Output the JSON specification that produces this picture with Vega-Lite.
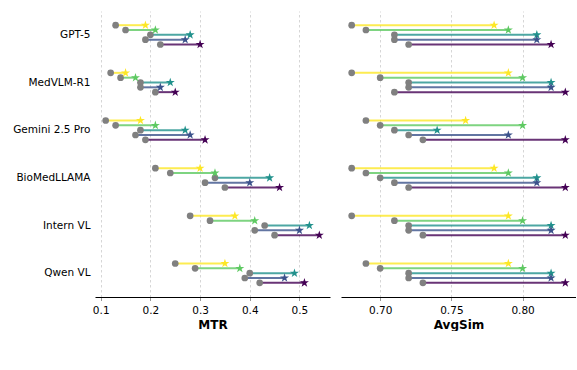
{
  "$schema": "https://vega.github.io/schema/vega-lite/v6.json",
  "padding": {"left": 12, "top": 11, "right": 0, "bottom": 0},
  "config": {
    "font": "DejaVu Sans",
    "view": {"stroke": null},
    "concat": {"spacing": 11},
    "axis": {
      "labelFont": "DejaVu Sans",
      "labelFontSize": 10.5,
      "labelColor": "#000000",
      "titleFont": "DejaVu Sans",
      "titleFontSize": 12,
      "titleFontWeight": "bold",
      "titleColor": "#000000"
    },
    "axisX": {
      "grid": true,
      "gridDash": [2.5, 2.5],
      "gridColor": "#cccccc",
      "gridWidth": 0.8,
      "domainColor": "#000000",
      "domainWidth": 1,
      "tickColor": "#999999",
      "tickSize": 3.5,
      "labelPadding": 5,
      "titlePadding": 3.5
    },
    "axisY": {
      "domain": false,
      "ticks": false,
      "grid": false,
      "labelPadding": 5
    }
  },
  "data": {
    "values": [
      {"model": "GPT-5", "method": "Comdefend", "mtr_m": 0.13, "mtr_o": 0.19, "sim_m": 0.68, "sim_o": 0.78},
      {"model": "GPT-5", "method": "JPEG", "mtr_m": 0.15, "mtr_o": 0.21, "sim_m": 0.69, "sim_o": 0.79},
      {"model": "GPT-5", "method": "Average", "mtr_m": 0.20, "mtr_o": 0.28, "sim_m": 0.71, "sim_o": 0.81},
      {"model": "GPT-5", "method": "Median", "mtr_m": 0.19, "mtr_o": 0.27, "sim_m": 0.71, "sim_o": 0.81},
      {"model": "GPT-5", "method": "Gaussian", "mtr_m": 0.22, "mtr_o": 0.30, "sim_m": 0.72, "sim_o": 0.82},
      {"model": "MedVLM-R1", "method": "Comdefend", "mtr_m": 0.12, "mtr_o": 0.15, "sim_m": 0.68, "sim_o": 0.79},
      {"model": "MedVLM-R1", "method": "JPEG", "mtr_m": 0.14, "mtr_o": 0.17, "sim_m": 0.70, "sim_o": 0.80},
      {"model": "MedVLM-R1", "method": "Average", "mtr_m": 0.18, "mtr_o": 0.24, "sim_m": 0.72, "sim_o": 0.82},
      {"model": "MedVLM-R1", "method": "Median", "mtr_m": 0.18, "mtr_o": 0.22, "sim_m": 0.72, "sim_o": 0.82},
      {"model": "MedVLM-R1", "method": "Gaussian", "mtr_m": 0.21, "mtr_o": 0.25, "sim_m": 0.71, "sim_o": 0.83},
      {"model": "Gemini 2.5 Pro", "method": "Comdefend", "mtr_m": 0.11, "mtr_o": 0.18, "sim_m": 0.69, "sim_o": 0.76},
      {"model": "Gemini 2.5 Pro", "method": "JPEG", "mtr_m": 0.13, "mtr_o": 0.21, "sim_m": 0.70, "sim_o": 0.80},
      {"model": "Gemini 2.5 Pro", "method": "Average", "mtr_m": 0.18, "mtr_o": 0.27, "sim_m": 0.71, "sim_o": 0.74},
      {"model": "Gemini 2.5 Pro", "method": "Median", "mtr_m": 0.17, "mtr_o": 0.28, "sim_m": 0.72, "sim_o": 0.79},
      {"model": "Gemini 2.5 Pro", "method": "Gaussian", "mtr_m": 0.19, "mtr_o": 0.31, "sim_m": 0.73, "sim_o": 0.83},
      {"model": "BioMedLLAMA", "method": "Comdefend", "mtr_m": 0.21, "mtr_o": 0.30, "sim_m": 0.68, "sim_o": 0.78},
      {"model": "BioMedLLAMA", "method": "JPEG", "mtr_m": 0.24, "mtr_o": 0.33, "sim_m": 0.69, "sim_o": 0.79},
      {"model": "BioMedLLAMA", "method": "Average", "mtr_m": 0.33, "mtr_o": 0.44, "sim_m": 0.70, "sim_o": 0.81},
      {"model": "BioMedLLAMA", "method": "Median", "mtr_m": 0.31, "mtr_o": 0.40, "sim_m": 0.71, "sim_o": 0.81},
      {"model": "BioMedLLAMA", "method": "Gaussian", "mtr_m": 0.35, "mtr_o": 0.46, "sim_m": 0.72, "sim_o": 0.83},
      {"model": "Intern VL", "method": "Comdefend", "mtr_m": 0.28, "mtr_o": 0.37, "sim_m": 0.68, "sim_o": 0.79},
      {"model": "Intern VL", "method": "JPEG", "mtr_m": 0.32, "mtr_o": 0.41, "sim_m": 0.71, "sim_o": 0.80},
      {"model": "Intern VL", "method": "Average", "mtr_m": 0.43, "mtr_o": 0.52, "sim_m": 0.72, "sim_o": 0.82},
      {"model": "Intern VL", "method": "Median", "mtr_m": 0.41, "mtr_o": 0.50, "sim_m": 0.72, "sim_o": 0.82},
      {"model": "Intern VL", "method": "Gaussian", "mtr_m": 0.45, "mtr_o": 0.54, "sim_m": 0.73, "sim_o": 0.83},
      {"model": "Qwen VL", "method": "Comdefend", "mtr_m": 0.25, "mtr_o": 0.35, "sim_m": 0.69, "sim_o": 0.79},
      {"model": "Qwen VL", "method": "JPEG", "mtr_m": 0.29, "mtr_o": 0.38, "sim_m": 0.70, "sim_o": 0.80},
      {"model": "Qwen VL", "method": "Average", "mtr_m": 0.40, "mtr_o": 0.49, "sim_m": 0.72, "sim_o": 0.82},
      {"model": "Qwen VL", "method": "Median", "mtr_m": 0.39, "mtr_o": 0.47, "sim_m": 0.72, "sim_o": 0.82},
      {"model": "Qwen VL", "method": "Gaussian", "mtr_m": 0.42, "mtr_o": 0.51, "sim_m": 0.73, "sim_o": 0.83}
    ]
  },
  "hconcat": [
    {
      "width": 235,
      "height": 286,
      "layer": [
        {
          "mark": {"type": "rule", "strokeWidth": 2, "opacity": 0.8},
          "encoding": {
            "y": {"field": "model", "type": "nominal", "title": null, "scale": {"domain": ["GPT-5", "MedVLM-R1", "Gemini 2.5 Pro", "BioMedLLAMA", "Intern VL", "Qwen VL"], "paddingInner": 0.494, "paddingOuter": 0.247}},
            "yOffset": {"field": "method", "type": "nominal", "scale": {"domain": ["Comdefend", "JPEG", "Average", "Median", "Gaussian"], "paddingInner": 0, "paddingOuter": 0}},
            "x": {"field": "mtr_m", "type": "quantitative", "title": "MTR", "scale": {"domain": [0.0885, 0.5615], "nice": false, "zero": false}, "axis": {"values": [0.1, 0.2, 0.3, 0.4, 0.5], "format": ".1f"}},
            "x2": {"field": "mtr_o"},
            "color": {"field": "method", "type": "nominal", "legend": null,
              "scale": {"domain": ["Gaussian", "Average", "Comdefend", "Ours", "Median", "JPEG", "M-Attack"], "range": ["#440154", "#21918c", "#fde725", "#000000", "#3b528b", "#5ec962", "#808080"]}}
          }
        },
        {
          "mark": {"type": "point", "shape": "circle", "filled": true, "size": 45, "color": "#808080", "opacity": 1},
          "encoding": {
            "y": {"field": "model", "type": "nominal"},
            "yOffset": {"field": "method", "type": "nominal"},
            "x": {"field": "mtr_m", "type": "quantitative"}
          }
        },
        {
          "mark": {"type": "point", "shape": "M0,-1L0.2245,-0.309L0.951,-0.309L0.363,0.118L0.588,0.809L0,0.382L-0.588,0.809L-0.363,0.118L-0.951,-0.309L-0.2245,-0.309Z", "filled": true, "size": 90, "opacity": 1},
          "encoding": {
            "y": {"field": "model", "type": "nominal"},
            "yOffset": {"field": "method", "type": "nominal"},
            "x": {"field": "mtr_o", "type": "quantitative"},
            "color": {"field": "method", "type": "nominal", "legend": null}
          }
        },
        {
          "data": {"values": [
            {"method": "Gaussian"}, {"method": "Average"}, {"method": "Comdefend"}, {"method": "Ours"},
            {"method": "Median"}, {"method": "JPEG"}, {"method": "M-Attack"}
          ]},
          "mark": {"type": "point", "filled": true, "opacity": 0},
          "encoding": {
            "color": {"field": "method", "type": "nominal",
              "legend": {"orient": "none", "legendX": 80, "legendY": 338, "columns": 4, "title": null, "padding": 0, "symbolSize": 100, "symbolOpacity": 1, "symbolStrokeWidth": 0, "labelFontSize": 11.5, "labelFont": "DejaVu Sans", "labelColor": "#000000", "labelOffset": 25, "columnPadding": 22, "rowPadding": 6}},
            "shape": {"field": "method", "type": "nominal",
              "scale": {"domain": ["Gaussian", "Average", "Comdefend", "Ours", "Median", "JPEG", "M-Attack"],
                "range": ["M-1,-0.35H4.6V0.35H-1Z", "M-1,-0.35H4.6V0.35H-1Z", "M-1,-0.35H4.6V0.35H-1Z",
                  "M1.8,-1.1L2.047,-0.34L2.846,-0.34L2.199,0.13L2.447,0.89L1.8,0.42L1.153,0.89L1.401,0.13L0.754,-0.34L1.553,-0.34Z",
                  "M-1,-0.35H4.6V0.35H-1Z", "M-1,-0.35H4.6V0.35H-1Z",
                  "M2.45,0A0.65,0.65 0 1,1 1.15,0A0.65,0.65 0 1,1 2.45,0Z"]},
              "legend": {"orient": "none", "legendX": 80, "legendY": 338, "columns": 4, "title": null, "padding": 0, "symbolSize": 100, "symbolOpacity": 1, "symbolStrokeWidth": 0, "labelFontSize": 11.5, "labelFont": "DejaVu Sans", "labelColor": "#000000", "labelOffset": 25, "columnPadding": 22, "rowPadding": 6}}
          }
        }
      ]
    },
    {
      "width": 235,
      "height": 286,
      "layer": [
        {
          "mark": {"type": "rule", "strokeWidth": 2, "opacity": 0.8},
          "encoding": {
            "y": {"field": "model", "type": "nominal", "axis": null, "scale": {"domain": ["GPT-5", "MedVLM-R1", "Gemini 2.5 Pro", "BioMedLLAMA", "Intern VL", "Qwen VL"], "paddingInner": 0.494, "paddingOuter": 0.247}},
            "yOffset": {"field": "method", "type": "nominal", "scale": {"domain": ["Comdefend", "JPEG", "Average", "Median", "Gaussian"], "paddingInner": 0, "paddingOuter": 0}},
            "x": {"field": "sim_m", "type": "quantitative", "title": "AvgSim", "scale": {"domain": [0.6725, 0.8375], "nice": false, "zero": false}, "axis": {"values": [0.70, 0.75, 0.80], "format": ".2f"}},
            "x2": {"field": "sim_o"},
            "color": {"field": "method", "type": "nominal", "legend": null}
          }
        },
        {
          "mark": {"type": "point", "shape": "circle", "filled": true, "size": 45, "color": "#808080", "opacity": 1},
          "encoding": {
            "y": {"field": "model", "type": "nominal", "axis": null},
            "yOffset": {"field": "method", "type": "nominal"},
            "x": {"field": "sim_m", "type": "quantitative"}
          }
        },
        {
          "mark": {"type": "point", "shape": "M0,-1L0.2245,-0.309L0.951,-0.309L0.363,0.118L0.588,0.809L0,0.382L-0.588,0.809L-0.363,0.118L-0.951,-0.309L-0.2245,-0.309Z", "filled": true, "size": 90, "opacity": 1},
          "encoding": {
            "y": {"field": "model", "type": "nominal", "axis": null},
            "yOffset": {"field": "method", "type": "nominal"},
            "x": {"field": "sim_o", "type": "quantitative"},
            "color": {"field": "method", "type": "nominal", "legend": null}
          }
        }
      ]
    }
  ]
}
